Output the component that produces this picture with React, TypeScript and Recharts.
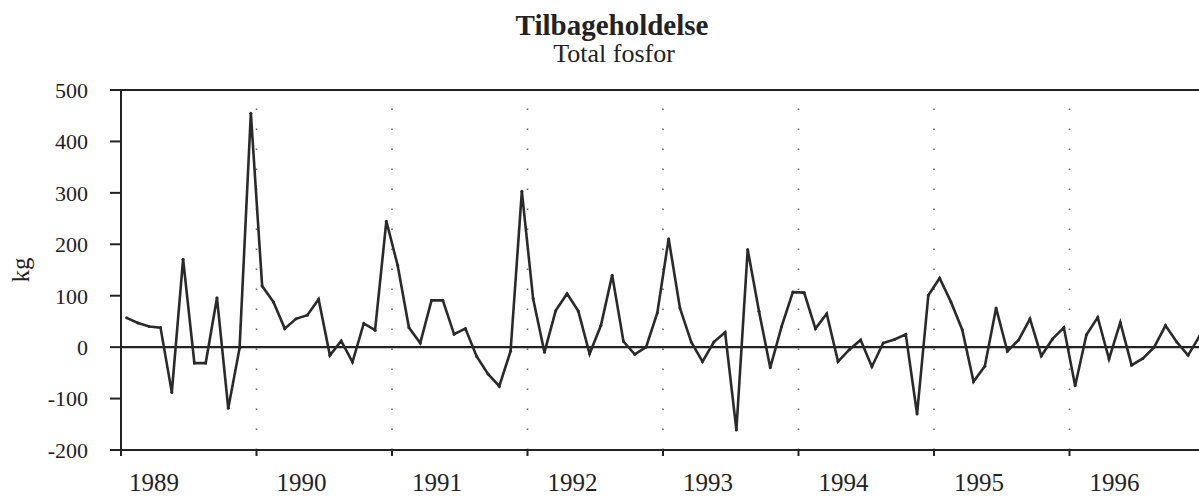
import { LineChart, Line, XAxis, YAxis, ReferenceLine } from "recharts";

/* ── Data (monthly retention, kg) ───────────────────────────── */
const years = ["1989", "1990", "1991", "1992", "1993", "1994", "1995", "1996"];

const v1989 = [57, 47, 40, 38, -88, 171, -31, -31, 96, -119, -2, 455];
const v1990 = [119, 88, 36, 55, 62, 93, -16, 12, -29, 46, 33, 245];
const v1991 = [159, 38, 8, 91, 91, 25, 36, -18, -52, -76, -8, 303];
const v1992 = [94, -10, 71, 104, 70, -13, 42, 140, 11, -14, 0, 67];
const v1993 = [211, 76, 10, -28, 10, 29, -161, 190, 70, -40, 40, 107];
const v1994 = [106, 36, 65, -28, -5, 14, -38, 8, 15, 25, -130, 101];
const v1995 = [134, 88, 34, -67, -37, 76, -8, 14, 55, -17, 16, 38];
const v1996 = [-75, 24, 58, -23, 48, -35, -22, 0, 42, 10, -16, 21];

const yearValues = [v1989, v1990, v1991, v1992, v1993, v1994, v1995, v1996];
const yTicks = [-200, -100, 0, 100, 200, 300, 400, 500];

// month index -> x position at the middle of each month
const data = yearValues.flatMap((vals, y) =>
  vals.map((v, m) => ({ t: y * 12 + m + 0.5, v }))
);
const yearStarts = years.map((_, i) => i * 12);

const serif = "'Liberation Serif', 'DejaVu Serif', serif";
const ink = "#222";

/* ── Year label under each year ─────────────────────────────── */
function YearTick({ x, y, payload }: { x?: number; y?: number; payload?: { value: number } }) {
  const idx = Math.round((payload?.value ?? 0) / 12);
  const dx = idx === 0 ? 33 : 45;
  return (
    <text
      x={(x ?? 0) + dx}
      y={(y ?? 0) + 35}
      textAnchor="middle"
      fontSize={25}
      fontFamily={serif}
      fill={ink}
    >
      {years[idx]}
    </text>
  );
}

export default function App() {
  return (
    <div
      style={{
        position: "absolute",
        left: 0,
        top: 0,
        width: 1199,
        height: 498,
        overflow: "hidden",
        background: "#fff",
      }}
    >
      <LineChart
        width={1205}
        height={498}
        data={data}
        margin={{ top: 90, right: 0, bottom: 0, left: 0 }}
      >
        <XAxis
          dataKey="t"
          type="number"
          domain={[0, 96]}
          ticks={yearStarts}
          interval={0}
          height={48}
          tickSize={6}
          tickMargin={0}
          axisLine={{ stroke: ink, strokeWidth: 2 }}
          tickLine={{ stroke: ink, strokeWidth: 2 }}
          tick={<YearTick />}
        />
        <YAxis
          type="number"
          domain={[-200, 500]}
          ticks={yTicks}
          interval={0}
          width={121}
          tickSize={11}
          tickMargin={22}
          axisLine={{ stroke: ink, strokeWidth: 2 }}
          tickLine={{ stroke: ink, strokeWidth: 2 }}
          tick={{ fontSize: 22, fontFamily: serif, fill: ink }}
        />
        {yearStarts.slice(1).map((m) => (
          <ReferenceLine
            key={m}
            x={m}
            stroke="#666"
            strokeWidth={1.6}
            strokeDasharray="1.6 18.4"
          />
        ))}
        <ReferenceLine y={500} stroke={ink} strokeWidth={2.2} />
        <ReferenceLine y={0} stroke={ink} strokeWidth={2.2} />
        <Line
          dataKey="v"
          type="linear"
          stroke="#2a2a2a"
          strokeWidth={2.6}
          dot={{ r: 1.5, fill: "#2a2a2a", stroke: "none" }}
          isAnimationActive={false}
        />
      </LineChart>

      {/* Titles and axis label */}
      <svg
        width={1199}
        height={498}
        style={{ position: "absolute", left: 0, top: 0, pointerEvents: "none" }}
      >
        <text x={612} y={35} textAnchor="middle" fontSize={29} fontWeight="bold" fontFamily={serif} fill={ink}>
          Tilbageholdelse
        </text>
        <text x={614} y={62} textAnchor="middle" fontSize={26} fontFamily={serif} fill={ink}>
          Total fosfor
        </text>
        <text
          x={20}
          y={270}
          transform="rotate(-90 20 270)"
          textAnchor="middle"
          dominantBaseline="central"
          fontSize={25}
          fontFamily={serif}
          fill={ink}
        >
          kg
        </text>
      </svg>
    </div>
  );
}
